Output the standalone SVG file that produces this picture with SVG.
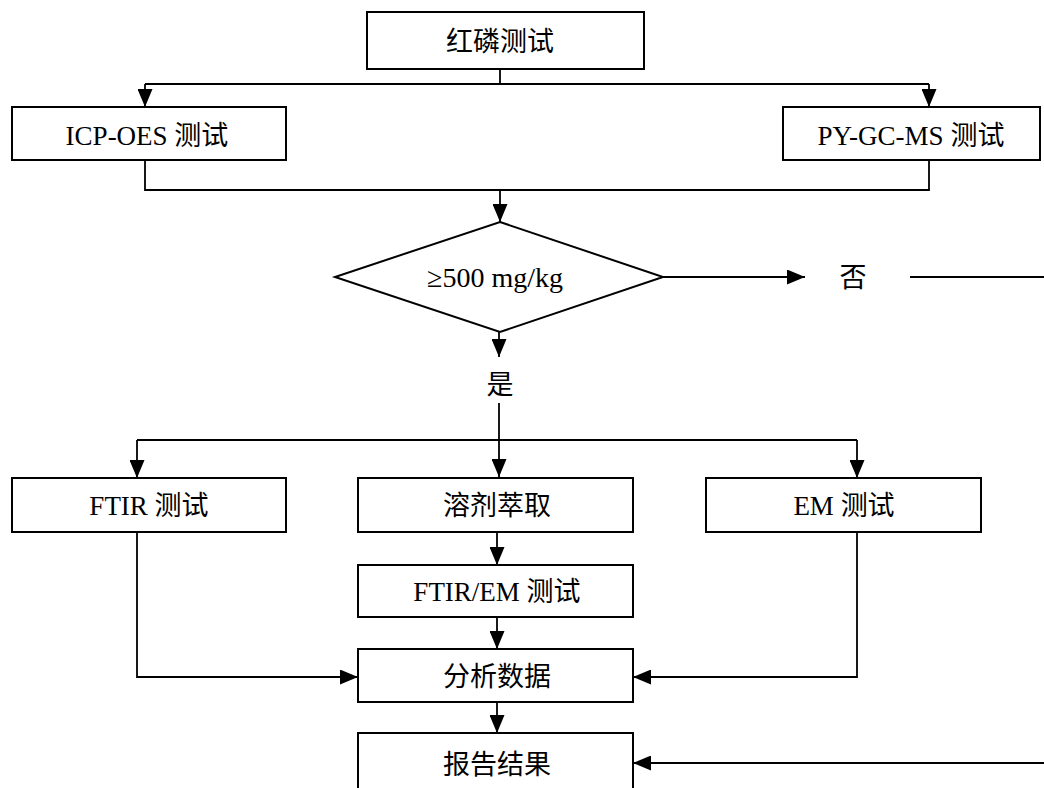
<svg xmlns="http://www.w3.org/2000/svg" width="1044" height="788" viewBox="0 0 1044 788">
<style>
.box{fill:#fff;stroke:#000;stroke-width:2}
.ln{fill:none;stroke:#000;stroke-width:1.8}
.t{font-family:"Liberation Serif","Noto Sans CJK SC",serif;font-size:27px;fill:#000;text-anchor:middle}
</style>
<defs>
<marker id="ah" markerUnits="userSpaceOnUse" markerWidth="18" markerHeight="15" refX="18" refY="7.5" orient="auto">
<path d="M0,0 L18,7.5 L0,15 z" fill="#000"/>
</marker>
</defs>
<rect width="1044" height="788" fill="#fff"/>
<g id="connectors">
<path class="ln" d="M500,69 V84"/>
<path class="ln" d="M145,84 H929"/>
<path class="ln" d="M145,84 V107" marker-end="url(#ah)"/>
<path class="ln" d="M929,84 V107" marker-end="url(#ah)"/>
<path class="ln" d="M145,160 V190 H929 V160"/>
<path class="ln" d="M500,190 V222" marker-end="url(#ah)"/>
<path class="ln" d="M663,277 H805" marker-end="url(#ah)"/>
<path class="ln" d="M910,277 H1044"/>
<path class="ln" d="M499,332 V357" marker-end="url(#ah)"/>
<path class="ln" d="M499,403 V477" marker-end="url(#ah)"/>
<path class="ln" d="M137,440 H857"/>
<path class="ln" d="M137,440 V478" marker-end="url(#ah)"/>
<path class="ln" d="M857,440 V478" marker-end="url(#ah)"/>
<path class="ln" d="M497,532 V565" marker-end="url(#ah)"/>
<path class="ln" d="M497,617 V649" marker-end="url(#ah)"/>
<path class="ln" d="M497,702 V733" marker-end="url(#ah)"/>
<path class="ln" d="M137,532 V677 H358" marker-end="url(#ah)"/>
<path class="ln" d="M857,532 V677 H633" marker-end="url(#ah)"/>
<path class="ln" d="M1044,763 H633" marker-end="url(#ah)"/>
</g>
<g id="n-hongling"><rect class="box" x="367" y="12" width="277" height="57"/><text class="t" x="500" y="51">红磷测试</text></g>
<g id="n-icp"><rect class="box" x="12" y="107" width="274" height="53"/><text class="t" x="147" y="145">ICP-OES 测试</text></g>
<g id="n-py"><rect class="box" x="783" y="107" width="257" height="53"/><text class="t" x="911" y="145">PY-GC-MS 测试</text></g>
<g id="n-decision"><path class="box" d="M500,222 L663,277 L500,332 L335,277 z"/><text class="t" x="495" y="287" style="font-size:28px">≥500 mg/kg</text></g>
<g id="n-no"><text class="t" x="853" y="287">否</text></g>
<g id="n-yes"><text class="t" x="500" y="394">是</text></g>
<g id="n-ftir"><rect class="box" x="12" y="478" width="274" height="54"/><text class="t" x="149" y="515">FTIR 测试</text></g>
<g id="n-solvent"><rect class="box" x="358" y="478" width="275" height="54"/><text class="t" x="497" y="515">溶剂萃取</text></g>
<g id="n-em"><rect class="box" x="706" y="478" width="275" height="54"/><text class="t" x="844" y="515">EM 测试</text></g>
<g id="n-ftirem"><rect class="box" x="358" y="565" width="275" height="52"/><text class="t" x="497" y="601">FTIR/EM 测试</text></g>
<g id="n-analysis"><rect class="box" x="358" y="649" width="275" height="53"/><text class="t" x="497" y="686">分析数据</text></g>
<g id="n-report"><rect class="box" x="358" y="733" width="275" height="70"/><text class="t" x="497" y="774">报告结果</text></g>
</svg>
